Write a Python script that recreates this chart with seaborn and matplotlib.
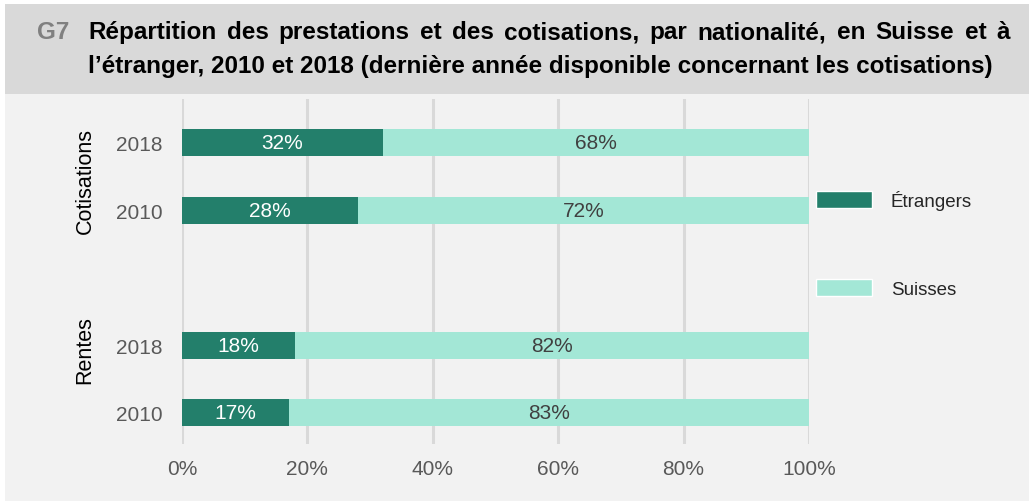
import seaborn as sns
import pandas as pd
import matplotlib.pyplot as plt
from matplotlib.patches import Rectangle, Patch
from matplotlib import transforms

# data
rows = ['Cotisations 2018', 'Cotisations 2010', 'gap', 'Rentes 2018', 'Rentes 2010']
row_years = ['2018', '2010', '', '2018', '2010']
groups = ['Cotisations', 'Rentes']
row_keys = ['Cotisations 2018', 'Cotisations 2010', 'Rentes 2018', 'Rentes 2010']
etrangers = [32, 28, 18, 17]
suisses = [68, 72, 82, 83]
x_ticks = [0, 20, 40, 60, 80, 100]
title_1 = 'Répartition des prestations et des cotisations, par nationalité, en Suisse et à'
title_2 = 'l’étranger, 2010 et 2018 (dernière année disponible concernant les cotisations)'

df = pd.DataFrame({'row': row_keys, 'Étrangers': etrangers, 'Suisses': suisses})
df['total'] = df['Étrangers'] + df['Suisses']

dark = '#237f6b'
light = '#a3e7d6'

sns.set_theme(style="white")
plt.rcParams['font.family'] = ['Liberation Sans', 'DejaVu Sans']

fig = plt.figure(figsize=(10.29, 5.02), dpi=100)
fig.patch.set_facecolor('white')
W, H = 1029, 502
fig.patches.append(Rectangle((5 / W, 0), 1, 1 - 95 / H, transform=fig.transFigure,
                             facecolor='#f2f2f2', edgecolor='none', zorder=-10))
fig.patches.append(Rectangle((5 / W, 1 - 95 / H), 1, 90 / H, transform=fig.transFigure,
                             facecolor='#d9d9d9', edgecolor='none', zorder=-10))

ax = fig.add_axes([182 / W, 1 - 445 / H, 627 / W, 345 / H])
ax.set_facecolor('none')

sns.barplot(data=df, y='row', x='total', order=rows, color=light, width=0.4,
            orient='h', ax=ax, saturation=1, zorder=2, linewidth=0)
sns.barplot(data=df, y='row', x='Étrangers', order=rows, color=dark, width=0.4,
            orient='h', ax=ax, saturation=1, zorder=3, linewidth=0)

ax.set_xlim(0, 100)
ax.set_ylim(4.46, -0.65)
ax.set_xticks(x_ticks)
ax.set_xticklabels([f'{t}%' for t in x_ticks])
ax.set_yticks(range(len(rows)))
ax.set_yticklabels(row_years)
ax.tick_params(axis='both', length=0, labelsize=15, labelcolor='#595959')
ax.tick_params(axis='y', pad=14)
ax.tick_params(axis='x', pad=11)
ax.set_xlabel('')
ax.set_ylabel('')
for s in ax.spines.values():
    s.set_visible(False)
ax.grid(axis='x', color='#d9d9d9', linewidth=2.2, zorder=0)
ax.set_axisbelow(True)

# value labels
for key, e, s in zip(row_keys, etrangers, suisses):
    y = rows.index(key)
    ax.text(e / 2, y, f'{e}%', ha='center', va='center', color='white', fontsize=15, zorder=5)
    ax.text(e + s / 2, y, f'{s}%', ha='center', va='center', color='#404040', fontsize=15, zorder=5)

# group labels
tr = transforms.blended_transform_factory(fig.transFigure, ax.transData)
fig.text(85 / W, 0.55, groups[0], rotation=90, ha='center', va='center', fontsize=15.5,
         color='black', transform=tr)
fig.text(85 / W, 3.05, groups[1], rotation=90, ha='center', va='center', fontsize=15.5,
         color='black', transform=tr)

# legend
handles = [Patch(facecolor=dark, label='Étrangers'), Patch(facecolor=light, label='Suisses')]
fig.legend(handles=handles, loc='upper left', bbox_to_anchor=(816 / W, 1 - 191 / H),
           frameon=False, fontsize=13.5, handlelength=3.0, handleheight=0.95,
           handletextpad=1.0, labelspacing=3.7, borderpad=0, borderaxespad=0)

# title
tsize = 17.5
fig.text(37 / W, 1 - 33 / H, 'G7', ha='left', va='center', fontsize=tsize, fontweight='bold',
         color='#808080')
fig.text(88 / W, 1 - 67 / H, title_2, ha='left', va='center', fontsize=tsize,
         fontweight='bold', color='black')

# first title line, justified between x=88 and x=1010 px
words = title_1.split(' ')
renderer = fig.canvas.get_renderer()
word_texts = [fig.text(0, 1 - 33 / H, w, ha='left', va='center', fontsize=tsize,
                       fontweight='bold', color='black') for w in words]
widths = [t.get_window_extent(renderer).width for t in word_texts]
gap = (1010 - 88 - sum(widths)) / (len(words) - 1)
x = 88
for t, w in zip(word_texts, widths):
    t.set_x(x / W)
    x += w + gap

fig.savefig('out.png', dpi=100, facecolor=fig.get_facecolor())
